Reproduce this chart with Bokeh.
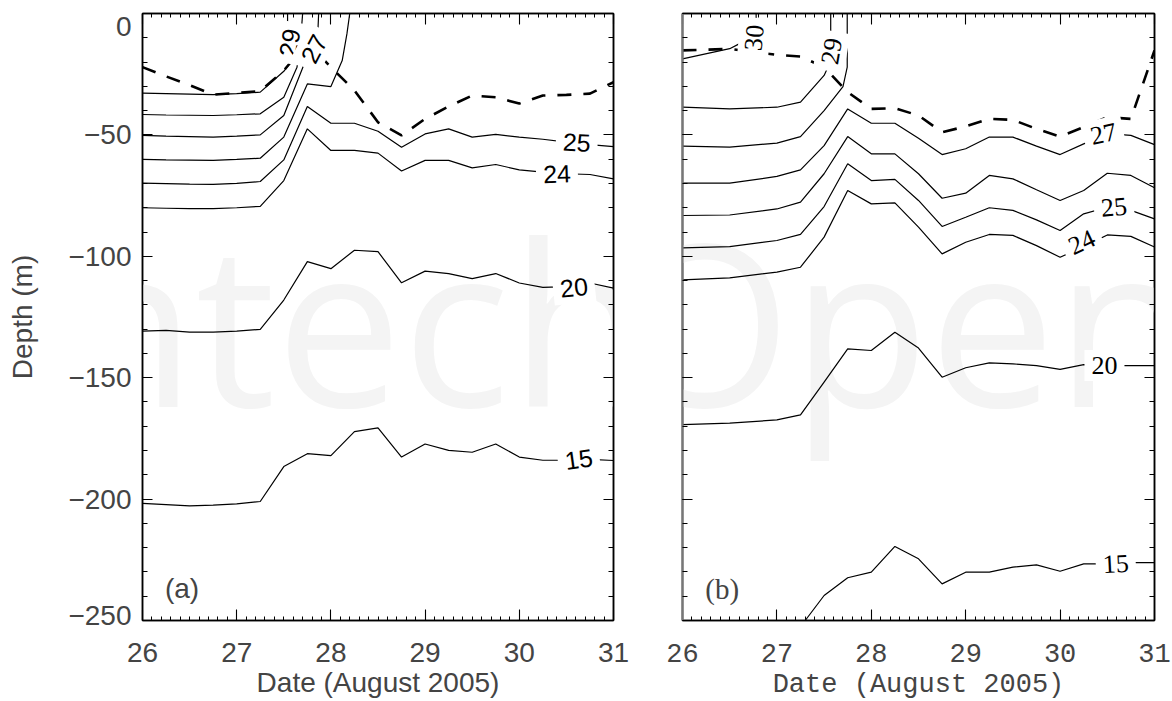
from bokeh.plotting import figure
from bokeh.models import Range1d, FixedTicker, LinearAxis, Label
from bokeh.layouts import row
from bokeh.core.properties import value
from bokeh.embed import file_html
from bokeh.resources import INLINE

# ---------------- data: panel (a) ----------------
XA = [26.0, 26.25, 26.5, 26.75, 27.0, 27.25, 27.5, 27.75, 28.0, 28.25, 28.5,
      28.75, 29.0, 29.25, 29.5, 29.75, 30.0, 30.25, 30.5, 30.75, 31.0]
A_T25 = [-69.9, -70.1, -70.3, -70.4, -70.0, -69.2, -60.3, -38.3, -45.2, -45.2, -48.5,
         -55.1, -49.6, -47.5, -50.9, -49.8, -50.9, -51.8, -53.0, -54.0, -54.8]
A_T24 = [-80.0, -80.2, -80.4, -80.4, -80.0, -79.4, -68.8, -47.5, -56.4, -56.4, -57.5,
         -64.9, -60.5, -60.5, -63.6, -62.2, -64.4, -65.3, -66.0, -66.3, -68.1]
A_T20 = [-130.8, -130.5, -131.2, -131.2, -130.8, -130.1, -118.0, -102.2, -105.1, -97.5, -98.1,
         -110.9, -106.1, -107.1, -109.2, -107.1, -111.0, -112.8, -112.5, -111.0, -113.1]
A_T15 = [-201.8, -202.3, -202.8, -202.5, -202.0, -201.0, -186.6, -181.3, -182.1, -172.2, -170.7,
         -182.7, -177.3, -179.9, -180.7, -177.3, -182.7, -184.0, -184.0, -183.6, -184.1]
A_MLD = [-22.1, -25.9, -29.5, -33.4, -32.7, -32.0, -23.5, -11.8, -22.1, -31.7, -44.8,
         -50.2, -43.4, -38.3, -33.8, -34.5, -37.1, -33.8, -33.5, -33.0, -28.3]

A29_X = [26.0, 26.25, 26.5, 26.75, 27.0, 27.25, 27.5, 27.6, 27.56, 27.54, 27.54]
A29_Y = [-32.8, -33.0, -33.2, -33.4, -33.0, -32.4, -23.8, -18.7, -12.0, -7.7, 0.0]
A28_X = [26.0, 26.25, 26.5, 26.75, 27.0, 27.25, 27.5, 27.64, 27.67, 27.70]
A28_Y = [-41.6, -41.8, -41.9, -42.0, -41.7, -41.3, -34.5, -22.1, -15.2, 0.0]
A27_X = [26.0, 26.25, 26.5, 26.75, 27.0, 27.25, 27.5, 27.71, 27.82, 27.86, 27.87]
A27_Y = [-50.2, -50.5, -50.7, -50.9, -50.5, -50.0, -42.0, -21.4, -15.2, -9.1, 0.0]
A26_X = [26.0, 26.25, 26.5, 26.75, 27.0, 27.25, 27.5, 27.75, 28.0, 28.12, 28.17, 28.20]
A26_Y = [-60.1, -60.3, -60.4, -60.5, -60.1, -59.6, -50.9, -29.0, -30.1, -19.4, -8.4, 0.0]

LA_TEXT = ["29", "27", "25", "24", "20", "15"]
LA_X = [27.56, 27.82, 30.61, 30.40, 30.58, 30.63]
LA_Y = [-12.0, -14.5, -53.0, -66.0, -112.8, -183.5]
LA_ANG = [80, 62, -3, 2, 6, 8]

# ---------------- data: panel (b) ----------------
XB = [26.0, 26.5, 27.0, 27.25, 27.5, 27.75, 28.0, 28.25, 28.5, 28.75,
      29.0, 29.25, 29.5, 29.75, 30.0, 30.25, 30.5, 30.75, 31.0]
B_T27 = [-69.9, -69.9, -67.1, -64.4, -54.4, -39.3, -45.2, -45.2, -51.4, -58.1,
         -55.7, -50.9, -50.9, -54.6, -58.1, -53.7, -49.5, -50.2, -54.0]
B_T26 = [-83.2, -83.0, -80.5, -77.7, -66.0, -50.7, -57.8, -57.8, -66.0, -76.1,
         -74.0, -66.7, -68.1, -72.6, -77.0, -72.9, -65.8, -66.7, -71.8]
B_T25 = [-96.5, -96.0, -93.5, -91.0, -79.5, -61.9, -68.8, -68.3, -77.0, -87.7,
         -83.9, -80.0, -81.1, -85.0, -89.4, -82.5, -79.8, -81.1, -84.6]
B_T24 = [-109.7, -108.9, -106.5, -104.5, -92.1, -72.9, -78.4, -78.0, -88.0, -99.0,
         -94.2, -91.0, -91.4, -95.6, -100.4, -96.0, -91.2, -91.8, -96.2]
B_T20 = [-169.3, -168.7, -167.4, -165.3, -151.8, -138.1, -138.8, -131.3, -137.8, -149.8,
         -145.9, -143.9, -144.3, -145.0, -146.6, -144.6, -145.0, -145.0, -145.0]
B_MLD = [-15.2, -14.6, -17.0, -17.7, -22.1, -32.4, -39.3, -39.0, -42.0, -48.9,
         -46.5, -43.4, -43.8, -47.5, -50.7, -46.8, -42.7, -43.4, -15.2]

B15_X = [27.3, 27.5, 27.75, 28.0, 28.25, 28.5, 28.75, 29.0, 29.25, 29.5, 29.75,
         30.0, 30.25, 30.5, 30.75, 31.0]
B15_Y = [-250.0, -239.7, -232.4, -230.1, -219.5, -224.6, -234.9, -230.1, -230.1, -228.0, -227.1,
         -229.7, -226.7, -226.7, -226.2, -226.2]
B30_X = [26.0, 26.5, 26.6, 26.72, 26.78, 26.78]
B30_Y = [-18.7, -14.5, -12.5, -10.0, -5.0, 0.0]
B29_X = [26.0, 26.5, 27.0, 27.25, 27.5, 27.54, 27.58, 27.57, 27.57]
B29_Y = [-38.6, -39.3, -38.6, -36.5, -25.5, -22.1, -15.0, -9.1, 0.0]
B28_X = [26.0, 26.5, 27.0, 27.25, 27.5, 27.70, 27.745, 27.745]
B28_Y = [-54.6, -55.0, -53.4, -50.7, -40.0, -30.1, -22.1, 0.0]

LB_TEXT = ["30", "29", "27", "25", "24", "20", "15"]
LB_X = [26.76, 27.58, 30.46, 30.57, 30.23, 30.47, 30.59]
LB_Y = [-10.0, -15.5, -49.6, -79.8, -94.2, -145.0, -226.7]
LB_ANG = [85, 80, 12, 5, 25, 0, 3]

# ---------------- axes ----------------
X_MAJOR = [26, 27, 28, 29, 30, 31]
X_MINOR = [round(26 + 0.1 * i, 1) for i in range(51)]
Y_MAJOR = [0, -50, -100, -150, -200, -250]
Y_MINOR = list(range(0, -251, -10))
Y_TEXT = {0: " \n0", -50: "\u221250", -100: "\u2212100", -150: "\u2212150",
          -200: "\u2212200", -250: "\u2212250\n "}

SANS = "Liberation Sans"
SERIF = "Liberation Serif"
MONO = "Liberation Mono"


def style_axis(ax, ticks, minor, maj, mnr, hidden=False, color="black", lw=1.5):
    ax.ticker = FixedTicker(ticks=ticks, minor_ticks=minor)
    ax.major_tick_in = maj
    ax.major_tick_out = 0
    ax.minor_tick_in = mnr
    ax.minor_tick_out = 0
    ax.axis_line_color = color
    ax.axis_line_width = lw
    ax.major_tick_line_color = "black"
    ax.minor_tick_line_color = "black"
    ax.major_tick_line_width = 1.1
    ax.minor_tick_line_width = 1.0
    if hidden:
        ax.major_label_text_font_size = "1px"
        ax.major_label_text_color = None
        ax.major_label_standoff = 0
        ax.axis_label = None


def make_fig(border_left, border_right, fw):
    p = figure(frame_width=fw, frame_height=607,
               x_range=Range1d(26, 31), y_range=Range1d(-250, 0),
               output_backend="svg", toolbar_location=None,
               min_border_left=border_left, min_border_right=border_right,
               min_border_top=13, min_border_bottom=68)
    p.xgrid.visible = False
    p.ygrid.visible = False
    p.outline_line_color = "black"
    p.outline_line_width = 1.5
    p.background_fill_color = "white"
    p.border_fill_color = "white"
    p.add_layout(LinearAxis(), "above")
    p.add_layout(LinearAxis(), "right")
    return p


# ---------------- panel (a) ----------------
p1 = make_fig(142, 35, 471)
xa = p1.below[0]
ya = p1.left[0]
style_axis(xa, X_MAJOR, X_MINOR, 11, 4)
style_axis(p1.above[0], X_MAJOR, X_MINOR, 11, 4, hidden=True)
style_axis(ya, Y_MAJOR, Y_MINOR, 10, 5)
style_axis(p1.right[0], Y_MAJOR, Y_MINOR, 10, 5, hidden=True)
xa.major_label_text_font = SANS
xa.major_label_text_font_size = "28px"
xa.major_label_standoff = 22
xa.axis_label = "Date (August 2005)"
xa.axis_label_text_font = SANS
xa.axis_label_text_font_size = "28px"
xa.axis_label_text_font_style = "normal"
xa.axis_label_standoff = 2
ya.major_label_overrides = Y_TEXT
ya.major_label_text_font = SANS
ya.major_label_text_font_size = "28px"
ya.major_label_text_line_height = 0.35
ya.major_label_standoff = 11
ya.axis_label = "Depth (m)"
ya.axis_label_text_font = SANS
ya.axis_label_text_font_size = "28px"
ya.axis_label_text_font_style = "normal"
ya.axis_label_standoff = 27

p1.add_layout(Label(x=24.432, y=-126.3, text="Intech",
                    text_font="Open Sans", text_font_size="225px", text_color="#f4f4f4",
                    text_baseline="alphabetic", level="underlay"))

for yy in (A_T25, A_T24, A_T20, A_T15):
    p1.line(XA, yy, line_color="black", line_width=1.2)
for xx, yy in ((A29_X, A29_Y), (A28_X, A28_Y), (A27_X, A27_Y), (A26_X, A26_Y)):
    p1.line(xx, yy, line_color="black", line_width=1.2)
p1.line(XA, A_MLD, line_color="black", line_width=2.6, line_dash="14 12")
p1.text(x=LA_X, y=LA_Y, text=LA_TEXT, angle=LA_ANG, angle_units="deg",
        text_font=value(SANS), text_font_size="25px", text_align="center",
        text_baseline="middle", text_color="black",
        background_fill_color="white", padding=7)
p1.add_layout(Label(x=26.42, y=-237, text="(a)", text_align="center", text_baseline="middle",
                    text_font=SANS, text_font_size="28px"))

# ---------------- panel (b) ----------------
p2 = make_fig(34, 18, 472)
xb = p2.below[0]
style_axis(xb, X_MAJOR, X_MINOR, 11, 4)
style_axis(p2.above[0], X_MAJOR, X_MINOR, 11, 4, hidden=True)
style_axis(p2.left[0], Y_MAJOR, Y_MINOR, 10, 5, hidden=True, color="#777777", lw=2.2)
style_axis(p2.right[0], Y_MAJOR, Y_MINOR, 10, 5, hidden=True)
xb.major_label_text_font = MONO
xb.major_label_text_font_size = "27px"
xb.major_label_standoff = 23
xb.axis_label = "Date (August 2005)"
xb.axis_label_text_font = MONO
xb.axis_label_text_font_size = "27px"
xb.axis_label_text_font_style = "normal"
xb.axis_label_standoff = 5

p2.add_layout(Label(x=25.3, y=-126.3, text="Open",
                    text_font="Open Sans", text_font_size="225px", text_color="#f4f4f4",
                    text_baseline="alphabetic", level="underlay"))

for yy in (B_T27, B_T26, B_T25, B_T24, B_T20):
    p2.line(XB, yy, line_color="black", line_width=1.2)
for xx, yy in ((B15_X, B15_Y), (B30_X, B30_Y), (B29_X, B29_Y), (B28_X, B28_Y)):
    p2.line(xx, yy, line_color="black", line_width=1.2)
p2.line(XB, B_MLD, line_color="black", line_width=2.6, line_dash="14 12")
p2.text(x=LB_X, y=LB_Y, text=LB_TEXT, angle=LB_ANG, angle_units="deg",
        text_font=value(SERIF), text_font_size="26px", text_align="center",
        text_baseline="middle", text_color="black",
        background_fill_color="white", padding=7)
p2.add_layout(Label(x=26.42, y=-237, text="(b)", text_align="center", text_baseline="middle",
                    text_font=SERIF, text_font_size="29px"))

layout = row(p1, p2)
open("out.html", "w").write(file_html(layout, INLINE))
